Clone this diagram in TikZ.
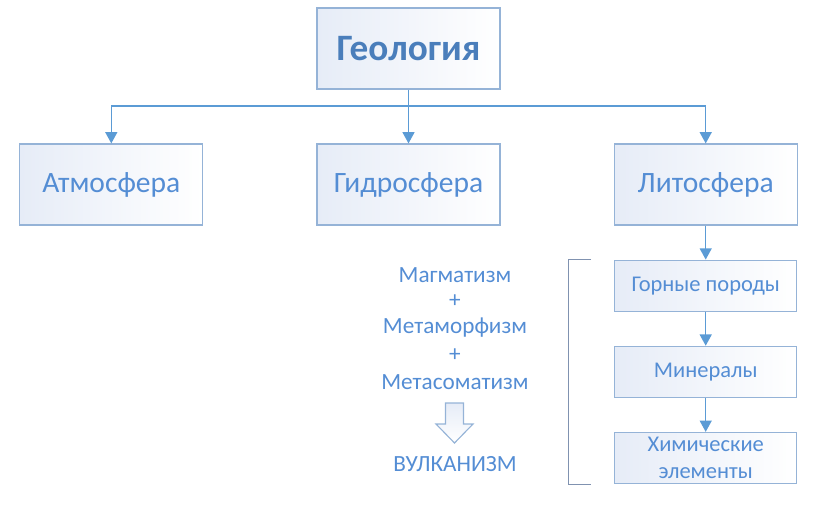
\documentclass[tikz,border=0pt]{standalone}
\usepackage{fontspec}
\setmainfont{Carlito}
\usetikzlibrary{arrows.meta}
\usetikzlibrary{positioning}

\definecolor{headblue}{RGB}{74,126,187}
\definecolor{textblue}{RGB}{84,141,212}
\definecolor{lineblue}{RGB}{91,155,213}
\definecolor{boxline}{RGB}{149,179,215}
\definecolor{boxfill}{RGB}{230,236,247}
\definecolor{bracketgray}{RGB}{128,146,176}

\begin{document}
\begin{tikzpicture}[
		x=0.025cm,
		y=-0.025cm,
		>={Triangle[width=8.5pt,length=8pt]},
		line width=1pt,
		node distance=2.825cm,
		sphere box/.style={
			draw=boxline,
			line width=0.8pt,
			left color=boxfill,
			right color=white,
			text=textblue,
			minimum width=4.575cm,
			minimum height=2.025cm,
			font=\fontsize{21}{25}\selectfont
		},
		small box/.style={
			sphere box,
			minimum width=4.55cm,
			minimum height=1.275cm,
			align=center,
			font=\fontsize{16}{19}\selectfont
		},
		proc text/.style={
			text=textblue,
			inner sep=0pt,
			font=\fontsize{16.5}{20}\selectfont
		},
		link/.style={lineblue,line width=1pt}
		]
		\useasboundingbox (0,0) rectangle (828,505);
		
		\node[sphere box, text=headblue, font=\fontsize{26.5}{30}\selectfont\bfseries] (geo) at (408.5,48.5) {Геология};
		\node[sphere box] (gidro) at (408.5,184.5) {Гидросфера};
		\node[sphere box] (atm) [left=of gidro] {Атмосфера};
		\node[sphere box] (lito) [right=of gidro] {Литосфера};
		
		\node[small box] (gory) [below=0.85cm of lito] {Горные породы};
		\node[small box] (min) [below=0.85cm of gory] {Минералы};
		\node[small box, font=\fontsize{16}{19.5}\selectfont] (chem) [below=0.85cm of min] {Химические\\элементы};
		
		\coordinate (bus) at (408.5,106);
		\draw[link] (geo.south) -- (geo.south |- bus);
		\draw[link] (atm |- bus) -- (lito |- bus);
		\draw[link,->] (atm |- bus) -- (atm);
		\draw[link,->] (gidro |- bus) -- (gidro);
		\draw[link,->] (lito |- bus) -- (lito);
		\draw[link,->] (lito) -- (gory);
		\draw[link,->] (gory) -- (min);
		\draw[link,->] (min) -- (chem);
		
		\draw[bracketgray, line width=0.8pt] ([xshift=-0.575cm]gory.north west) -| ([xshift=-1.15cm]chem.south west) -- ([xshift=-0.575cm]chem.south west);
		
		\node[proc text] (magma) at (455,275) {Магматизм};
		\node[proc text] (plus1) at (455,301) {+};
		\node[proc text] (meta) at (455,328) {Метаморфизм};
		\node[proc text] (plus2) at (455,355) {+};
		\node[proc text] (somat) at (455,382) {Метасоматизм};
		% hollow arrow down to the result
		\coordinate (down) at (454.5,403);
		\draw[draw=boxline, line width=0.8pt, top color=boxfill, bottom color=white]
			([xshift=-0.225cm]down) -- ++(18,0) -- ++(0,21) -- ++(9.5,0) -- ++(-18.5,19) -- ++(-18.5,-19) -- ++(9.5,0) -- cycle;
		\node[proc text] (vulk) at (455,464) {ВУЛКАНИЗМ};
	\end{tikzpicture}
\end{document}
